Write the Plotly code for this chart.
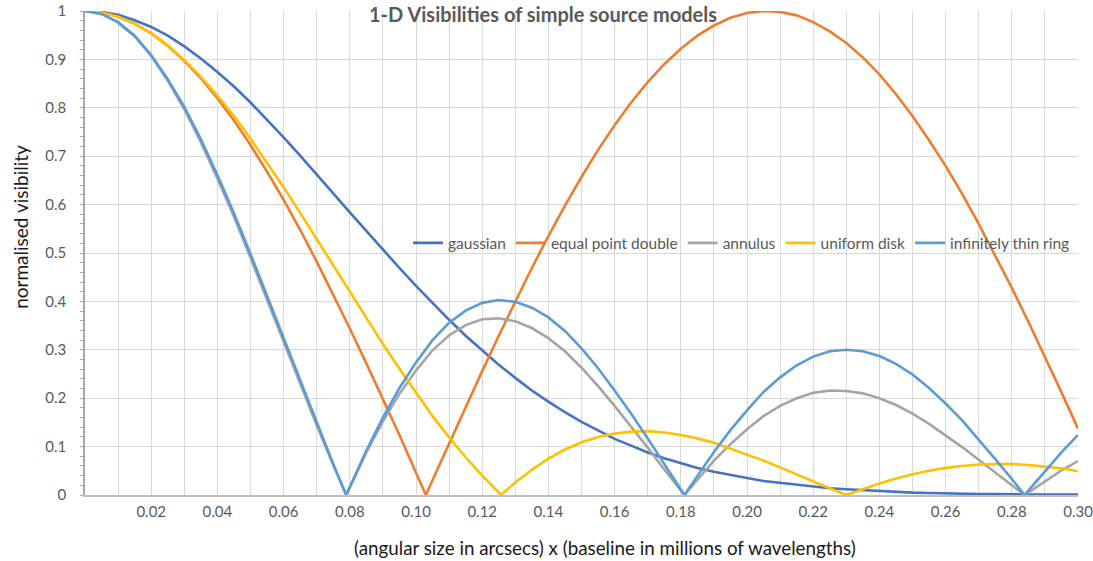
import plotly.graph_objects as go

# ---- data ----
baseline = [0.000, 0.005, 0.010, 0.015, 0.020, 0.025, 0.030, 0.035, 0.040, 0.045,
            0.050, 0.055, 0.060, 0.065, 0.070, 0.075, 0.080, 0.085, 0.090, 0.095,
            0.100, 0.105, 0.110, 0.115, 0.120, 0.125, 0.130, 0.135, 0.140, 0.145,
            0.150, 0.155, 0.160, 0.165, 0.170, 0.175, 0.180, 0.185, 0.190, 0.195,
            0.200, 0.205, 0.210, 0.215, 0.220, 0.225, 0.230, 0.235, 0.240, 0.245,
            0.250, 0.255, 0.260, 0.265, 0.270, 0.275, 0.280, 0.285, 0.290, 0.295,
            0.300]

gaussian = [1.000, 0.998, 0.992, 0.981, 0.967, 0.949, 0.927, 0.902, 0.874, 0.844,
            0.811, 0.776, 0.739, 0.701, 0.663, 0.623, 0.584, 0.545, 0.506, 0.469,
            0.432, 0.396, 0.362, 0.329, 0.298, 0.269, 0.242, 0.216, 0.193, 0.171,
            0.151, 0.133, 0.116, 0.102, 0.088, 0.076, 0.066, 0.056, 0.048, 0.041,
            0.035, 0.029, 0.025, 0.021, 0.017, 0.014, 0.012, 0.010, 0.008, 0.006,
            0.005, 0.004, 0.003, 0.003, 0.002, 0.002, 0.001, 0.001, 0.001, 0.001,
            0.001]

equal_point_double = [1.000, 0.997, 0.988, 0.974, 0.954, 0.928, 0.897, 0.861, 0.820, 0.774,
                      0.723, 0.668, 0.610, 0.548, 0.482, 0.414, 0.344, 0.272, 0.198, 0.124,
                      0.046, 0.031, 0.107, 0.182, 0.256, 0.329, 0.400, 0.469, 0.535, 0.598,
                      0.657, 0.713, 0.764, 0.811, 0.853, 0.890, 0.922, 0.949, 0.970, 0.986,
                      0.996, 1.000, 0.998, 0.991, 0.977, 0.958, 0.934, 0.904, 0.869, 0.828,
                      0.783, 0.733, 0.680, 0.622, 0.560, 0.495, 0.428, 0.358, 0.286, 0.212,
                      0.137]
equal_point_double_zeros = [0.1030]

annulus = [1.000, 0.994, 0.976, 0.948, 0.907, 0.856, 0.797, 0.729, 0.654, 0.575,
           0.490, 0.403, 0.317, 0.229, 0.144, 0.062, 0.015, 0.088, 0.152, 0.209,
           0.257, 0.299, 0.330, 0.351, 0.363, 0.365, 0.359, 0.345, 0.324, 0.297,
           0.263, 0.225, 0.184, 0.142, 0.098, 0.053, 0.010, 0.031, 0.071, 0.105,
           0.136, 0.163, 0.184, 0.200, 0.211, 0.216, 0.215, 0.210, 0.200, 0.186,
           0.168, 0.147, 0.123, 0.099, 0.073, 0.046, 0.020, 0.005, 0.029, 0.051,
           0.070]
annulus_zeros = [0.0789, 0.1811, 0.2839]

uniform_disk = [1.000, 0.997, 0.988, 0.974, 0.954, 0.929, 0.899, 0.864, 0.825, 0.783,
                0.736, 0.687, 0.636, 0.583, 0.529, 0.474, 0.420, 0.366, 0.312, 0.261,
                0.211, 0.163, 0.119, 0.078, 0.040, 0.005, 0.026, 0.052, 0.075, 0.094,
                0.109, 0.120, 0.127, 0.131, 0.132, 0.129, 0.124, 0.117, 0.108, 0.096,
                0.084, 0.071, 0.057, 0.042, 0.028, 0.014, 0.000, 0.012, 0.024, 0.034,
                0.043, 0.050, 0.056, 0.060, 0.063, 0.064, 0.064, 0.062, 0.059, 0.055,
                0.049]
uniform_disk_zeros = [0.1257]

thin_ring = [1.000, 0.994, 0.977, 0.949, 0.909, 0.859, 0.802, 0.735, 0.661, 0.582,
             0.498, 0.411, 0.324, 0.235, 0.148, 0.064, 0.016, 0.092, 0.160, 0.221,
             0.274, 0.320, 0.356, 0.381, 0.397, 0.403, 0.399, 0.387, 0.367, 0.339,
             0.303, 0.262, 0.216, 0.168, 0.117, 0.064, 0.012, 0.039, 0.089, 0.134,
             0.175, 0.213, 0.243, 0.268, 0.286, 0.297, 0.300, 0.297, 0.287, 0.271,
             0.249, 0.221, 0.189, 0.154, 0.115, 0.074, 0.033, 0.009, 0.049, 0.088,
             0.124]
thin_ring_zeros = [0.0789, 0.1811, 0.2839]

x_tick_vals = [0.02, 0.04, 0.06, 0.08, 0.10, 0.12, 0.14, 0.16, 0.18, 0.20,
               0.22, 0.24, 0.26, 0.28, 0.30]
x_tick_text = ["0.02", "0.04", "0.06", "0.08", "0.10", "0.12", "0.14", "0.16",
               "0.18", "0.20", "0.22", "0.24", "0.26", "0.28", "0.30"]
y_tick_vals = [0, 0.1, 0.2, 0.3, 0.4, 0.5, 0.6, 0.7, 0.8, 0.9, 1.0]
y_tick_text = ["0", "0.1", "0.2", "0.3", "0.4", "0.5", "0.6", "0.7", "0.8", "0.9", "1"]

series_names = ["gaussian", "equal point double", "annulus", "uniform disk",
                "infinitely thin ring"]
series_colors = ["#4472C4", "#ED7D31", "#A5A5A5", "#FFC000", "#5B9BD5"]


def merged(vals, zeros):
    pts = list(zip(baseline, vals)) + [(z, 0.0) for z in zeros]
    pts.sort(key=lambda p: p[0])
    return [p[0] for p in pts], [p[1] for p in pts]


series_data = [
    merged(gaussian, []),
    merged(equal_point_double, equal_point_double_zeros),
    merged(annulus, annulus_zeros),
    merged(uniform_disk, uniform_disk_zeros),
    merged(thin_ring, thin_ring_zeros),
]

FONT = "Lato"
TXT = "#595959"

fig = go.Figure()
for name, color, (xs, ys) in zip(series_names, series_colors, series_data):
    fig.add_trace(go.Scatter(x=xs, y=ys, mode="lines", name=name,
                             line=dict(color=color, width=2.6)))

fig.update_layout(
    width=1093, height=561,
    margin=dict(l=85, r=15, t=11, b=66, pad=0),
    paper_bgcolor="white", plot_bgcolor="white",
    font=dict(family=FONT, color=TXT, size=15),
    showlegend=True,
    legend=dict(orientation="h", x=0.997, y=0.52, xanchor="right", yanchor="middle",
                bgcolor="rgba(0,0,0,0)", font=dict(family=FONT, size=15.5, color=TXT),
                itemwidth=30, tracegroupgap=0, itemclick=False),
    xaxis=dict(range=[0, 0.30], tickvals=x_tick_vals, ticktext=x_tick_text,
               automargin=False, ticklabeloverflow="allow",
               showgrid=True, gridcolor="#d9d9d9", gridwidth=1,
               minor=dict(dtick=0.01, tick0=0, showgrid=True, gridcolor="#d9d9d9",
                          gridwidth=1),
               showline=True, linecolor="#bfbfbf", linewidth=1.5,
               zeroline=False, ticks="", tickfont=dict(size=15, color=TXT),
               ticklabelstandoff=2),
    yaxis=dict(range=[0, 1.0], tickvals=y_tick_vals, ticktext=y_tick_text,
               automargin=False, ticklabeloverflow="allow",
               showgrid=True, gridcolor="#d9d9d9", gridwidth=1,
               showline=True, linecolor="#a6a6a6", linewidth=1.5,
               zeroline=False, ticks="", tickfont=dict(size=15, color=TXT),
               minor=dict(ticks="outside", ticklen=3, dtick=0.02, tickcolor="#a6a6a6",
                          showgrid=False),
               ticklabelstandoff=14),
    annotations=[
        dict(text="<b>1-D Visibilities of simple source models</b>",
             xref="paper", yref="paper", x=0.461, y=0.993,
             xanchor="center", yanchor="middle", showarrow=False,
             font=dict(family=FONT, size=20, color=TXT)),
        dict(text="(angular size in arcsecs) x (baseline in millions of wavelengths)",
             xref="paper", yref="paper", x=0.524, y=-0.108,
             xanchor="center", yanchor="middle", showarrow=False,
             font=dict(family=FONT, size=18.8, color="#1a1a1a")),
        dict(text="normalised visibility", textangle=-90,
             xref="paper", yref="paper", x=-0.065, y=0.555,
             xanchor="center", yanchor="middle", showarrow=False,
             font=dict(family=FONT, size=19, color="#1a1a1a")),
    ],
)

fig.write_html("out.html")
